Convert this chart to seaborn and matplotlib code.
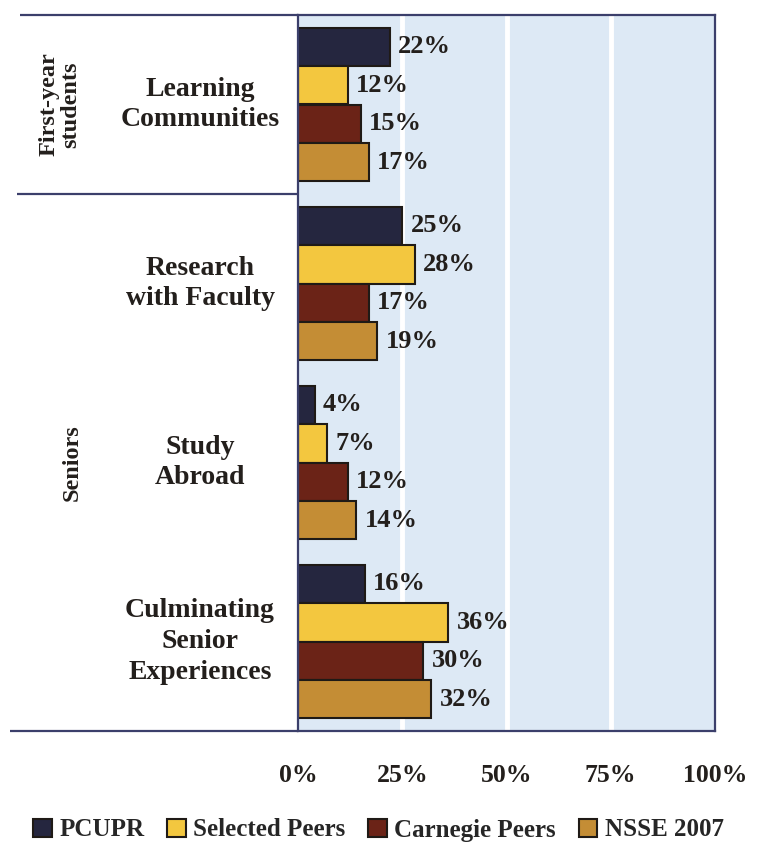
import matplotlib
matplotlib.use("Agg")
import matplotlib.pyplot as plt
import seaborn as sns
import pandas as pd
from matplotlib.transforms import blended_transform_factory

# ---- data ----
categories = ["Learning Communities", "Research with Faculty", "Study Abroad",
              "Culminating Senior Experiences"]
category_labels = ["Learning\nCommunities", "Research\nwith Faculty", "Study\nAbroad",
                   "Culminating\nSenior\nExperiences"]
series = ["PCUPR", "Selected Peers", "Carnegie Peers", "NSSE 2007"]
pcupr = [22, 25, 4, 16]
selected_peers = [12, 28, 7, 36]
carnegie_peers = [15, 17, 12, 30]
nsse_2007 = [17, 19, 14, 32]
x_ticks = [0, 25, 50, 75, 100]
x_tick_labels = ["0%", "25%", "50%", "75%", "100%"]
group_labels = ["First-year\nstudents", "Seniors"]
group_positions = [0, 2]

series_values = [pcupr, selected_peers, carnegie_peers, nsse_2007]
colors = ["#25263f", "#f3c73f", "#6b2317", "#c48d35"]

rows = []
for s, vals in zip(series, series_values):
    for c, v in zip(categories, vals):
        rows.append({"category": c, "series": s, "value": v})
df = pd.DataFrame(rows)

sns.set_theme(style="white")
plt.rcParams["font.family"] = ["Liberation Serif", "DejaVu Serif"]
plt.rcParams["font.weight"] = "bold"

W, H = 757, 852
fig = plt.figure(figsize=(W / 100, H / 100), dpi=100)
L, R, T, B = 298, 715, 15, 731
ax = fig.add_axes([L / W, 1 - B / H, (R - L) / W, (B - T) / H])

sns.barplot(data=df, y="category", x="value", hue="series", order=categories,
            hue_order=series, palette=colors, width=0.86, edgecolor="#1f1a16",
            linewidth=1.5, orient="h", ax=ax, legend=False, saturation=1)

ax.set_xlim(0, 100)
ax.set_ylim(3.5, -0.5)
ax.set_facecolor("#dde9f5")
for x in x_ticks[1:-1]:
    ax.axvline(x, color="white", lw=3.5, zorder=0.5)

ax.set_xticks(x_ticks)
ax.set_xticklabels(x_tick_labels, fontsize=18.5, fontweight="bold", color="#231f1c")
ax.tick_params(axis="x", length=0, pad=24)
ax.set_yticks([])
ax.set_xlabel("")
ax.set_ylabel("")

frame_color = "#3b3f6b"
for sp in ax.spines.values():
    sp.set_color(frame_color)
    sp.set_linewidth(1.6)
    sp.set_visible(True)

for cont, vals in zip(ax.containers, series_values):
    ax.bar_label(cont, labels=[f"{v}%" for v in vals], padding=6, fontsize=19,
                 fontweight="bold", color="#231f1c")

trans = blended_transform_factory(ax.transAxes, ax.transData)
for i, lab in enumerate(category_labels):
    ax.text(-0.235, i, lab, ha="center", va="center", transform=trans,
            fontsize=20, fontweight="bold", linespacing=1.3, color="#231f1c")

group_x = [-0.571, -0.542]
for gx, gy, lab in zip(group_x, group_positions, group_labels):
    ax.text(gx, gy, lab, ha="center", va="center", rotation=90, transform=trans,
            fontsize=17.5, fontweight="bold", linespacing=1.1, color="#231f1c")

# frame extension lines to the left of the plot
for y, x0 in [(-0.5, -0.667), (0.5, -0.674), (3.5, -0.69)]:
    ax.plot([x0, 0], [y, y], transform=trans, color=frame_color, lw=1.6,
            clip_on=False, solid_capstyle="butt")

handles = [c.patches[0] for c in ax.containers]
fig.legend(handles, series, loc="center", bbox_to_anchor=(0.5, 1 - 830 / H),
           ncol=4, frameon=False, prop={"family": "Liberation Serif", "weight": "bold", "size": 18},
           handlelength=0.75, handleheight=0.75, handletextpad=0.3, columnspacing=0.9)

fig.savefig("out.png", dpi=100)
